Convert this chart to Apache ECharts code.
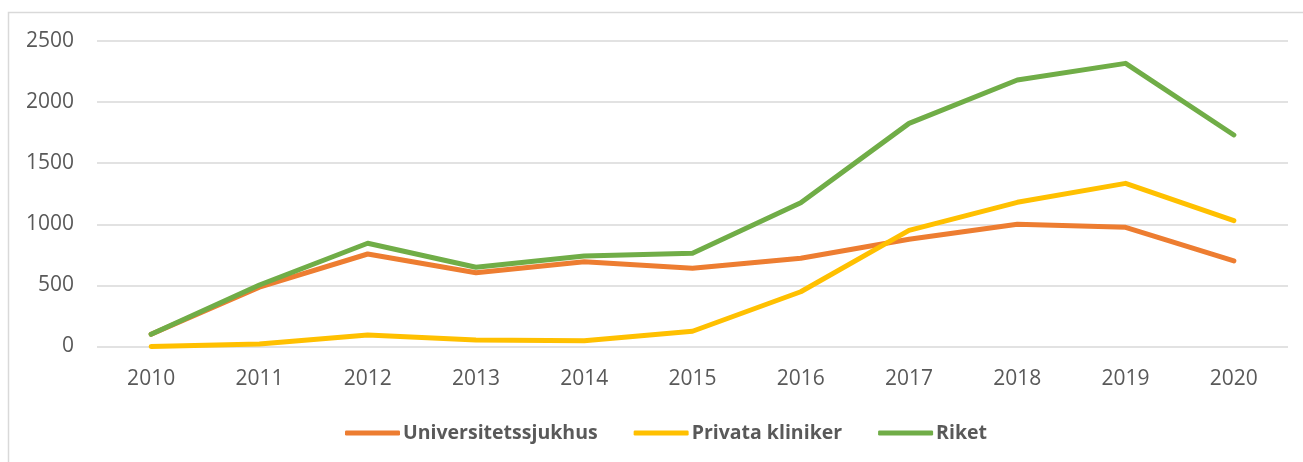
<!DOCTYPE html>
<html>
<head>
<meta charset="utf-8">
<script src="https://cdn.jsdelivr.net/npm/echarts@6/dist/echarts.min.js"></script>
<style>
  html, body { margin: 0; padding: 0; background: #fff; }
  #chart { width: 1303px; height: 462px; }
</style>
</head>
<body>
<div id="chart"></div>
<script>
// Years on the category axis
const years = ['2010', '2011', '2012', '2013', '2014', '2015', '2016', '2017', '2018', '2019', '2020'];

// Values per series
const universitetssjukhus = [100, 485, 757, 604, 694, 640, 722, 877, 1000, 975, 700];
const privataKliniker = [0, 20, 94, 53, 48, 125, 448, 950, 1180, 1335, 1030];
const riket = [100, 503, 845, 648, 740, 763, 1177, 1826, 2181, 2317, 1731];

// Value axis ticks
const yTicks = [0, 500, 1000, 1500, 2000, 2500];

const textColor = '#595959';
const gridColor = '#d9d9d9';
const fontFamily = '"Open Sans", "DejaVu Sans", sans-serif';

function lineSeries(name, data, color) {
  return {
    name: name,
    type: 'line',
    data: data,
    symbol: 'none',
    smooth: false,
    lineStyle: { width: 5, color: color, cap: 'round', join: 'round' },
    itemStyle: { color: color }
  };
}

const chart = echarts.init(document.getElementById('chart'), null, { renderer: 'canvas' });
chart.setOption({
  backgroundColor: '#fff',
  animation: false,
  graphic: [{
    type: 'rect',
    shape: { x: 8.5, y: 12.5, width: 1400, height: 500 },
    style: { fill: 'none', stroke: gridColor, lineWidth: 1.5 },
    silent: true
  }],
  grid: { left: 97, right: 15, top: 41, bottom: 115.5 },
  legend: {
    top: 418,
    left: 340,
    icon: 'roundRect',
    itemWidth: 55,
    itemHeight: 5,
    itemGap: 36,
    textStyle: { color: textColor, fontSize: 19.5, fontWeight: 'bold', fontFamily: fontFamily, padding: [0, 0, 0, -2] },
    data: ['Universitetssjukhus', 'Privata kliniker', 'Riket']
  },
  xAxis: {
    type: 'category',
    data: years,
    boundaryGap: true,
    axisLine: { show: false },
    axisTick: { show: false },
    axisLabel: { color: textColor, fontSize: 21, fontFamily: fontFamily, margin: 22 }
  },
  yAxis: {
    type: 'value',
    min: yTicks[0],
    max: yTicks[yTicks.length - 1],
    interval: yTicks[1] - yTicks[0],
    axisLine: { show: false },
    axisTick: { show: false },
    axisLabel: { color: textColor, fontSize: 21, fontFamily: fontFamily, margin: 23, formatter: v => String(v) },
    splitLine: { lineStyle: { color: gridColor, width: 1.5 } }
  },
  series: [
    lineSeries('Universitetssjukhus', universitetssjukhus, '#ED7D31'),
    lineSeries('Privata kliniker', privataKliniker, '#FFC000'),
    lineSeries('Riket', riket, '#70AD47')
  ]
});
</script>
</body>
</html>
